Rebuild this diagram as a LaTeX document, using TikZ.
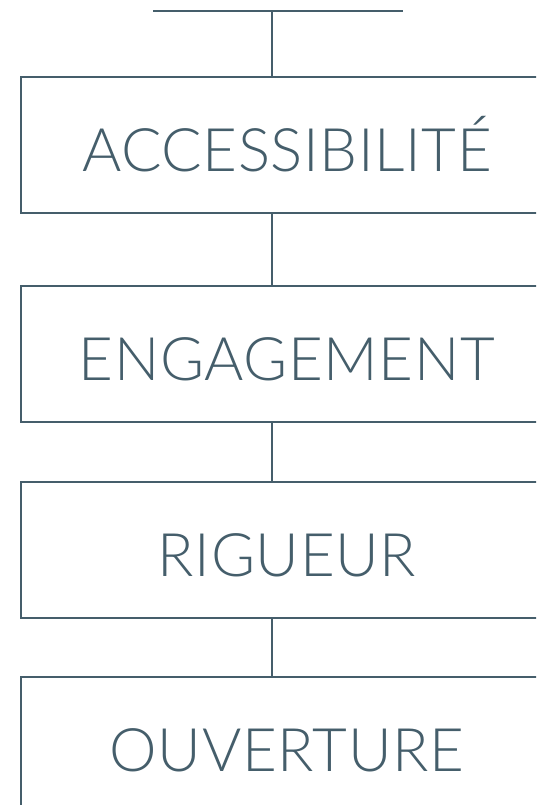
\documentclass[tikz,border=0pt]{standalone}
\usepackage{fontspec}
\setmainfont{Lato Light}[LetterSpace=1]
\definecolor{slate}{HTML}{455E6B}
\tikzset{
  line/.style={draw=slate, line width=1.9pt},
  valuebox/.style={line, rectangle, anchor=north west, minimum width=532pt, minimum height=136pt,
    inner sep=0pt, text=slate, font=\fontsize{60}{60}\selectfont, text height=53pt, text depth=0pt}
}
\begin{document}
\begin{tikzpicture}[x=1pt,y=-1pt]
\useasboundingbox (0,0) rectangle (536,805);
\clip (0,0) rectangle (536,805);
\fill[white] (0,0) rectangle (536,805);
\coordinate (tl) at (153,11);
\coordinate (tr) at (403,11);
\coordinate (tm) at (272,11);
\node[valuebox] (b1) at (20,76) {ACCESSIBILITÉ};
\node[valuebox] (b2) at (20,285) {ENGAGEMENT};
\node[valuebox] (b3) at (20,481) {RIGUEUR};
\node[valuebox] (b4) at (20,676) {OUVERTURE};
\draw[line] (tl) -- (tr);
\draw[line] (tm) -- (tm |- b1.north);
\draw[line] (b1.south -| tm) -- (b2.north -| tm);
\draw[line] (b2.south -| tm) -- (b3.north -| tm);
\draw[line] (b3.south -| tm) -- (b4.north -| tm);
\end{tikzpicture}
\end{document}
